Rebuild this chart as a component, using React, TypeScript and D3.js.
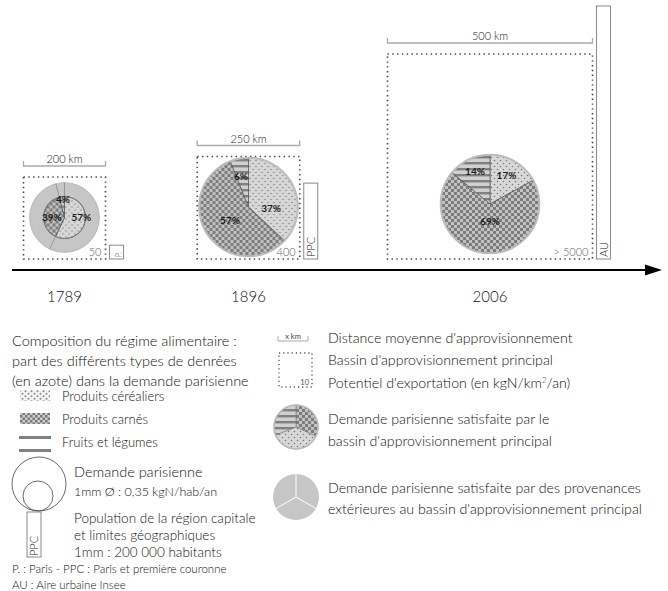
import React from "react";
import * as d3 from "d3";

// ---------- data ----------
const years = ["1789", "1896", "2006"];
const distancesKm = [200, 250, 500];
const exportPotential = ["50", "400", "> 5000"];
const popLabels = ["P.", "PPC", "AU"];
const populationM = [0.6, 3.3, 11.0];
const demandTotal = [5.3, 7.5, 7.5]; // kgN/hab/an
const demandBasin = [3.2, 7.5, 7.5]; // kgN/hab/an satisfied by main basin
const cerealShare = [57, 37, 17];
const meatShare = [39, 57, 69];
const fruitShare = [4, 6, 14];
const legendPieShares = [32, 37, 31]; // meat, cereal, fruit in legend icon

// ---------- layout ----------
const W = 668, H = 591;
const FONT = "Lato, 'Open Sans', sans-serif";
const FW = 300;
const TXT = "#111";
const boxCenterX = [64.5, 248.5, 490];
const pieCY = [217.5, 207, 204];
const boxBottom = 259;
const axisY = 270;
const pxPerMm = 4.6;
const labelPolar: [number, number][][] = [
  [[90, 0.8], [270, 0.6], [-5, 0.84]],
  [[93, 0.46], [233, 0.47], [346, 0.63]],
  [[30.5, 0.66], [180, 0.36], [335, 0.72]],
];

const kmScale = d3.scaleLinear().domain([0, 500]).range([0, 205]);
const diamScale = d3.scaleLinear().domain([0, 0.35]).range([0, pxPerMm]);
const popScale = d3.scaleLinear().domain([0, 0.2]).range([0, pxPerMm]);

const fills: Record<string, string> = {
  cereal: "url(#pCereal)",
  meat: "url(#pMeat)",
  fruit: "url(#pFruit)",
};

const pie = d3.pie<{ k: string; v: number }>().sort(null).value((d) => d.v);

function Patterns() {
  return (
    <defs>
      <pattern id="pCereal" width="6" height="6" patternUnits="userSpaceOnUse">
        <rect width="6" height="6" fill="#d8d8d8" />
        <circle cx="1.5" cy="1.5" r="0.8" fill="#7a7a7a" />
        <circle cx="4.5" cy="4.5" r="0.8" fill="#7a7a7a" />
      </pattern>
      <pattern id="pMeat" width="6" height="6" patternUnits="userSpaceOnUse">
        <rect width="6" height="6" fill="#c2c2c2" />
        <rect width="3" height="3" fill="#7c7c7c" />
        <rect x="3" y="3" width="3" height="3" fill="#7c7c7c" />
      </pattern>
      <pattern id="pFruit" width="6" height="6" patternUnits="userSpaceOnUse">
        <rect width="6" height="6" fill="#d0d0d0" />
        <rect width="6" height="2.4" fill="#808080" />
      </pattern>
      <pattern id="lCereal" width="6" height="5" patternUnits="userSpaceOnUse">
        <rect width="6" height="5" fill="#f4f4f4" />
        <circle cx="1.5" cy="1.2" r="1" fill="#888" />
        <circle cx="4.5" cy="3.7" r="1" fill="#888" />
      </pattern>
      <pattern id="lMeat" width="5" height="5" patternUnits="userSpaceOnUse">
        <rect width="5" height="5" fill="#d0d0d0" />
        <rect width="2.5" height="2.5" fill="#777" />
        <rect x="2.5" y="2.5" width="2.5" height="2.5" fill="#777" />
      </pattern>
    </defs>
  );
}

function YearGroup({ i }: { i: number }) {
  const w = kmScale(distancesKm[i]);
  const cx = boxCenterX[i];
  const x0 = cx - w / 2;
  const y0 = boxBottom - w;
  const cy = pieCY[i];
  const R = diamScale(demandTotal[i]) / 2;
  const r = diamScale(demandBasin[i]) / 2;
  const data = [
    { k: "cereal", v: cerealShare[i] },
    { k: "meat", v: meatShare[i] },
    { k: "fruit", v: fruitShare[i] },
  ];
  const arcs = pie(data);
  const arc = d3.arc<any>().innerRadius(0).outerRadius(r);
  const ph = popScale(populationM[i]);
  const px = x0 + w + 4;
  const barY = y0 - 11;
  const hasRing = R - r > 1;
  return (
    <g>
      <path
        d={`M${x0},${barY - 5}V${barY}H${x0 + w}V${barY - 5}`}
        fill="none"
        stroke="#aaa"
        strokeWidth={1.3}
      />
      <text x={cx} y={barY - 3} textAnchor="middle" fontSize={11} fontWeight={FW} fill="#222" fontFamily={FONT}>
        {distancesKm[i]} km
      </text>
      <rect x={x0} y={y0} width={w} height={w} fill="none" stroke="#444" strokeWidth={1.6} strokeDasharray="1.4 3.4" />
      <text x={x0 + w - 4} y={boxBottom - 3} textAnchor="end" fontSize={11} fontWeight={FW} fill="#666" fontFamily={FONT}>
        {exportPotential[i]}
      </text>
      {hasRing && (
        <g>
          <circle cx={cx} cy={cy} r={R} fill="#c6c6c6" stroke="#b8b8b8" strokeWidth={1} />
          {arcs.map((a, j) => (
            <line
              key={j}
              x1={cx + Math.sin(a.startAngle) * r}
              y1={cy - Math.cos(a.startAngle) * r}
              x2={cx + Math.sin(a.startAngle) * R}
              y2={cy - Math.cos(a.startAngle) * R}
              stroke="#8a8a8a"
              strokeWidth={0.8}
            />
          ))}
        </g>
      )}
      <g transform={`translate(${cx},${cy})`}>
        {arcs.map((a, j) => (
          <path key={j} d={arc(a) || ""} fill={fills[a.data.k]} stroke="#555" strokeWidth={0.7} />
        ))}
        <circle r={r} fill="none" stroke={hasRing ? "#777" : "#bdbdbd"} strokeWidth={hasRing ? 0.8 : 2} />
        {arcs.map((a, j) => {
          const [ang, f] = labelPolar[i][j];
          const t = (ang * Math.PI) / 180;
          return (
            <text
              key={"l" + j}
              x={Math.sin(t) * r * f}
              y={-Math.cos(t) * r * f}
              dy="0.35em"
              textAnchor="middle"
              fontSize={10}
              fontWeight="bold"
              fill="#1a1a1a"
              fontFamily={FONT}
            >
              {a.data.v}%
            </text>
          );
        })}
      </g>
      <rect x={px} y={boxBottom - ph} width={14} height={ph} fill="white" stroke="#8a8a8a" strokeWidth={1} />
      <text
        transform={`translate(${px + 11},${boxBottom - 2}) rotate(-90)`}
        fontSize={i === 0 ? 7 : 11}
        fontWeight={FW}
        fill="#222"
        fontFamily={FONT}
      >
        {popLabels[i]}
      </text>
      <text x={cx} y={302} textAnchor="middle" fontSize={15} fontWeight={FW} fill={TXT} fontFamily={FONT}>
        {years[i]}
      </text>
    </g>
  );
}

function Legend() {
  const t = (x: number, y: number, s: string, fs = 14.2) => (
    <text x={x} y={y} fontSize={fs} fontWeight={FW} fill={TXT} fontFamily={FONT}>
      {s}
    </text>
  );
  const legArcs = pie([
    { k: "meat", v: legendPieShares[0] },
    { k: "cereal", v: legendPieShares[1] },
    { k: "fruit", v: legendPieShares[2] },
  ]);
  const la = d3.arc<any>().innerRadius(0).outerRadius(22);
  const greyAngles = [0, 120, 240];
  return (
    <g>
      {t(12, 346, "Composition du régime alimentaire :", 14.5)}
      {t(12, 366, "part des différents types de denrées", 14.5)}
      {t(12, 386, "(en azote) dans la demande parisienne", 14.5)}
      <rect x={20} y={390} width={30} height={11} fill="url(#lCereal)" />
      {t(62, 401, "Produits céréaliers", 13)}
      <rect x={20} y={413} width={30} height={11} fill="url(#lMeat)" />
      {t(62, 424, "Produits carnés", 13)}
      <rect x={19} y={436} width={32} height={3} fill="#808080" />
      <rect x={19} y={449} width={32} height={3} fill="#808080" />
      {t(62, 447, "Fruits et légumes", 13)}
      <circle cx={39} cy={484} r={27} fill="none" stroke="#444" strokeWidth={0.8} />
      <circle cx={38} cy={496} r={15} fill="none" stroke="#444" strokeWidth={0.8} />
      {t(74, 477, "Demande parisienne", 14.5)}
      {t(74, 496, "1mm Ø : 0,35 kgN/hab/an", 12.5)}
      <rect x={27} y={512} width={14} height={45} fill="white" stroke="#8a8a8a" />
      <text transform="translate(38,556) rotate(-90)" fontSize={11} fontWeight={FW} fill="#222" fontFamily={FONT}>
        PPC
      </text>
      {t(74, 523, "Population de la région capitale", 13.5)}
      {t(74, 540, "et limites géographiques", 13.5)}
      {t(74, 557, "1mm : 200 000 habitants", 13.5)}
      {t(12, 573, "P. : Paris - PPC : Paris et première couronne", 11.5)}
      {t(12, 589, "AU : Aire urbaine Insee", 11.5)}

      <path d="M278,336V341H308V336" fill="none" stroke="#aaa" />
      <text x={293} y={339} textAnchor="middle" fontSize={7.5} fill="#444" fontFamily={FONT}>
        x km
      </text>
      {t(328, 343, "Distance moyenne d'approvisionnement")}
      <rect x={279} y={353} width={33} height={34} fill="none" stroke="#555" strokeWidth={1.3} strokeDasharray="1.2 3" />
      <text x={309} y={385} textAnchor="end" fontSize={7.5} fill="#555" fontFamily={FONT}>
        10
      </text>
      {t(328, 365, "Bassin d'approvisionnement principal")}
      <text x={328} y={388} fontSize={14.2} fontWeight={FW} fill={TXT} fontFamily={FONT}>
        Potentiel d'exportation (en kgN/km
        <tspan fontSize={8} dy={-5}>2</tspan>
        <tspan dy={5}>/an)</tspan>
      </text>
      <g transform="translate(296,427)">
        {legArcs.map((a, j) => (
          <path key={j} d={la(a) || ""} fill={fills[a.data.k]} stroke="#777" strokeWidth={0.6} />
        ))}
        <circle r={22} fill="none" stroke="#bbb" strokeWidth={1.5} />
      </g>
      {t(328, 424, "Demande parisienne satisfaite par le")}
      {t(328, 446, "bassin d'approvisionnement principal")}
      <circle cx={296} cy={497} r={23} fill="#c6c6c6" />
      {greyAngles.map((g) => {
        const a = (g * Math.PI) / 180;
        return (
          <line key={g} x1={296} y1={497} x2={296 + Math.sin(a) * 23} y2={497 - Math.cos(a) * 23} stroke="white" strokeWidth={1} />
        );
      })}
      {t(328, 493, "Demande parisienne satisfaite par des provenances")}
      {t(328, 514, "extérieures au bassin d'approvisionnement principal")}
    </g>
  );
}

export default function App() {
  return (
    <svg
      width={W}
      height={H}
      viewBox={`0 0 ${W} ${H}`}
      style={{ position: "absolute", left: 0, top: 0, background: "white" }}
    >
      <Patterns />
      <rect width={W} height={H} fill="white" />
      {years.map((_, i) => (
        <YearGroup key={i} i={i} />
      ))}
      <line x1={12} y1={axisY} x2={648} y2={axisY} stroke="black" strokeWidth={2} />
      <path d={`M645,${axisY - 5.5}L662,${axisY}L645,${axisY + 5.5}Z`} fill="black" />
      <Legend />
    </svg>
  );
}
